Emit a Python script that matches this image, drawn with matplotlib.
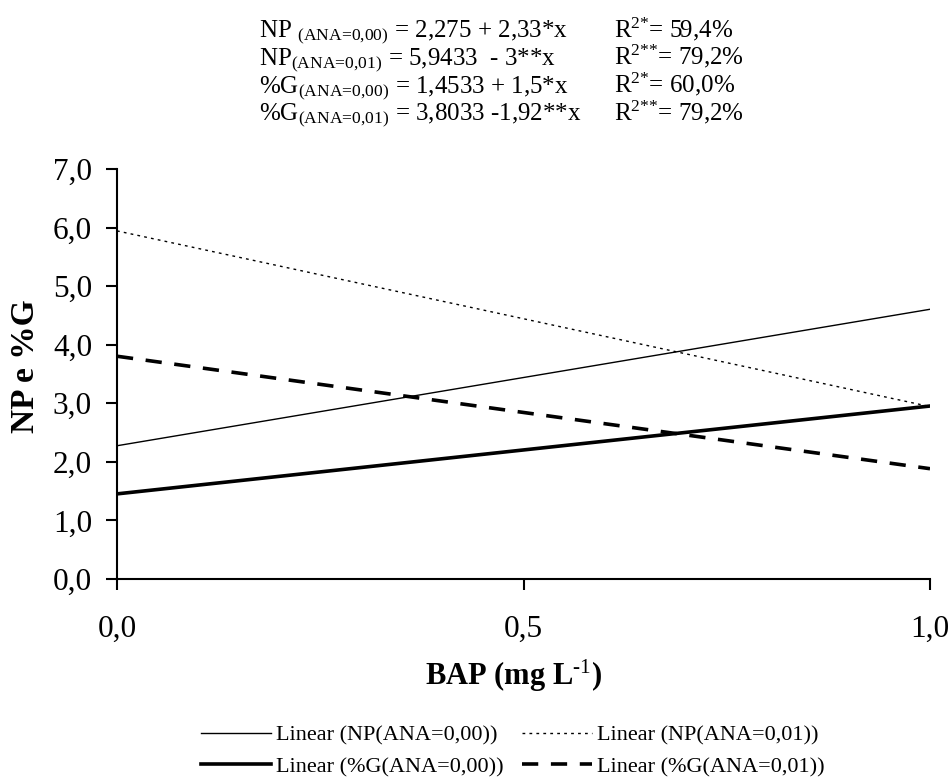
import numpy as np
import matplotlib
matplotlib.use("Agg")
import matplotlib.pyplot as plt

plt.rcParams['font.family'] = ['Liberation Serif', 'DejaVu Serif']
plt.rcParams['mathtext.fontset'] = 'custom'
plt.rcParams['mathtext.rm'] = 'Liberation Serif'
plt.rcParams['mathtext.it'] = 'Liberation Serif:italic'
plt.rcParams['mathtext.bf'] = 'Liberation Serif:bold'

# regression coefficients (intercept, slope) for each series
series_names = ["Linear (NP(ANA=0,00))", "Linear (NP(ANA=0,01))",
                "Linear (%G(ANA=0,00))", "Linear (%G(ANA=0,01))"]
intercepts = [2.275, 5.9433, 1.4533, 3.8033]
slopes = [2.33, -3.0, 1.5, -1.92]

bap = np.array([0.0, 1.0])

x_ticks = [0.0, 0.5, 1.0]
x_ticklabels = ["0,0", "0,5", "1,0"]
y_ticks = [0, 1, 2, 3, 4, 5, 6, 7]
y_ticklabels = ["0,0", "1,0", "2,0", "3,0", "4,0", "5,0", "6,0", "7,0"]

equations = [
    r"NP $_{\text{(ANA=0,00)}}$ = 2,275 + 2,33*x",
    r"NP$_{\text{(ANA=0,01)}}$ = 5,9433  - 3**x",
    r"%G$_{\text{(ANA=0,00)}}$ = 1,4533 + 1,5*x",
    r"%G$_{\text{(ANA=0,01)}}$ = 3,8033 -1,92**x",
]
r_squared = [
    r"R$^{\text{2*}}$= 59,4%",
    r"R$^{\text{2**}}$= 79,2%",
    r"R$^{\text{2*}}$= 60,0%",
    r"R$^{\text{2**}}$= 79,2%",
]

styles = [
    dict(color='black', lw=1.0, ls='-'),
    dict(color='black', lw=1.0, ls=(0, (2, 3))),
    dict(color='black', lw=2.6, ls='-'),
    dict(color='black', lw=2.6, ls=(0, (4.5, 3.5))),
]

W, H = 949, 778
fig = plt.figure(figsize=(W / 100, H / 100), dpi=100)
ax = fig.add_axes([117 / W, 1 - 579 / H, (930 - 117) / W, (579 - 169) / H])

lines = []
for b0, b1, name, st in zip(intercepts, slopes, series_names, styles):
    ln, = ax.plot(bap, b0 + b1 * bap, label=name, **st)
    lines.append(ln)

ax.set_xlim(0, 1)
ax.set_ylim(0, 7)
ax.set_xticks(x_ticks)
ax.set_xticklabels(x_ticklabels)
ax.set_yticks(y_ticks)
ax.set_yticklabels(y_ticklabels)
ax.spines['top'].set_visible(False)
ax.spines['right'].set_visible(False)
for s in ('left', 'bottom'):
    ax.spines[s].set_linewidth(1.5)
ax.tick_params(axis='both', direction='out', length=8, width=1.5, labelsize=22.5)
ax.tick_params(axis='x', pad=18)
ax.tick_params(axis='y', pad=10)

ax.set_ylabel("NP e %G", fontsize=24, fontweight='bold')
ax.yaxis.set_label_coords(-0.094, 0.52)
ax.set_xlabel(r"BAP (mg L$^{\mathbf{\text{-1}}}$)", fontsize=22, fontweight='bold')
ax.xaxis.set_label_coords(0.488, -0.193)

# equation block above the plot
for i, (eq, r2) in enumerate(zip(equations, r_squared)):
    y = 1 - (37 + i * 27.7) / H
    fig.text(259 / W, y, eq, fontsize=18, va='baseline', ha='left')
    fig.text(614 / W, y, r2, fontsize=18, va='baseline', ha='left')

# row-wise order: NP pair on top, %G pair below
order = [0, 2, 1, 3]
leg = fig.legend([lines[k] for k in order], [series_names[k] for k in order],
                 loc='center', bbox_to_anchor=(513 / W, 1 - 751 / H), ncol=2,
                 frameon=False, fontsize=16, handlelength=3.15, handletextpad=0.23,
                 columnspacing=0.8, labelspacing=0.5)

fig.savefig("out.png", dpi=100)
